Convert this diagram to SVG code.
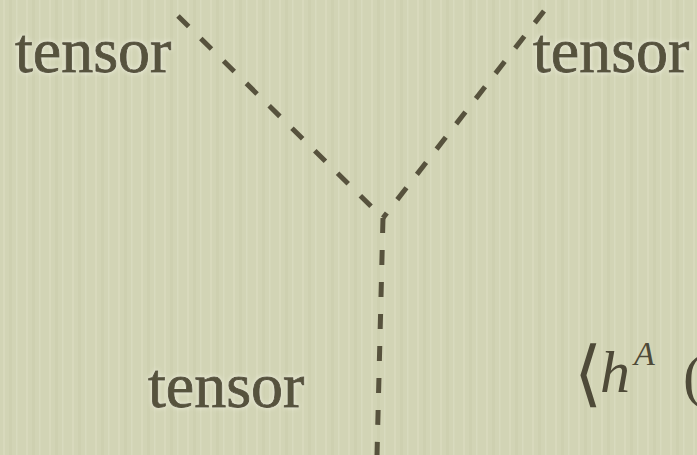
<svg xmlns="http://www.w3.org/2000/svg" width="697" height="455" viewBox="0 0 697 455">
<defs>
<style>
.lbl{font-family:"Liberation Serif","DejaVu Serif",serif;font-size:64px;fill:#57523d;stroke:#57523d;stroke-width:0.9;filter:url(#glow)}
.math{fill:#4e4a38}
.mi{font-family:"Liberation Serif","DejaVu Serif",serif;font-style:italic}
.edge{stroke:#57523d;stroke-width:5;stroke-dasharray:15 17;fill:none}
</style>
<filter id="glow" x="-10%" y="-20%" width="120%" height="140%">
<feGaussianBlur in="SourceAlpha" stdDeviation="2.5" result="b"/>
<feFlood flood-color="#f4f4e6" flood-opacity="0.9"/>
<feComposite in2="b" operator="in" result="g"/>
<feMerge><feMergeNode in="g"/><feMergeNode in="SourceGraphic"/></feMerge>
</filter>
<pattern id="tex" width="23" height="455" patternUnits="userSpaceOnUse">
<rect width="23" height="455" fill="#d2d4b5"/>
<rect x="3" width="2" height="455" fill="#dadcc0" opacity="0.7"/>
<rect x="9" width="3" height="455" fill="#c9cbab" opacity="0.5"/>
<rect x="16" width="1.5" height="455" fill="#dcdec4" opacity="0.6"/>
</pattern>
</defs>
<rect width="697" height="455" fill="url(#tex)"/>
<g id="connectors">
<path class="edge" d="M178,16 L383,218"/>
<path class="edge" d="M544,11 L383,218"/>
<path class="edge" d="M383,218 L377,455"/>
</g>
<g id="tensor-top-left"><text class="lbl" x="15" y="72">tensor</text></g>
<g id="tensor-top-right"><text class="lbl" x="533" y="72">tensor</text></g>
<g id="tensor-bottom"><text class="lbl" x="148" y="407">tensor</text></g>
<g id="expr">
<text class="math" x="574" y="398" font-size="72" font-family="DejaVu Serif,serif">⟨</text>
<text class="math mi" x="600" y="392" font-size="60">h</text>
<text class="math mi" x="634" y="365" font-size="34">A</text>
<text class="math" x="683" y="396" font-size="60" font-family="Liberation Serif,serif">(</text>
</g>
</svg>
